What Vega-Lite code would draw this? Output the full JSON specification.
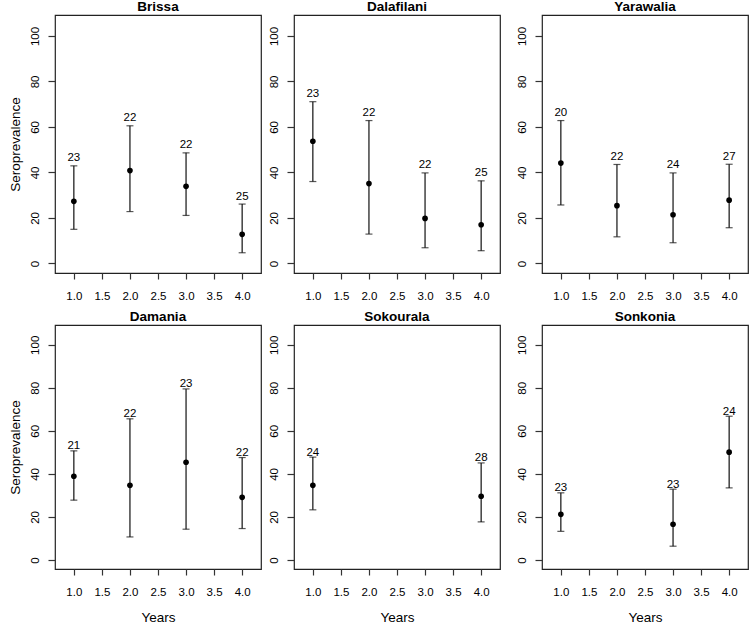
{
  "$schema": "https://vega.github.io/schema/vega-lite/v6.json",
  "padding": {"left": 7, "top": -2, "right": 0, "bottom": 0},
  "background": "white",
  "config": {
    "font": "Liberation Sans",
    "view": {"stroke": "#222", "strokeWidth": 1.2},
    "axis": {"domain": false, "grid": false, "tickColor": "#333", "tickWidth": 1.2, "labelFont": "Liberation Sans", "labelFontSize": 11.5, "labelColor": "#000", "titleFont": "Liberation Sans", "titleFontSize": 13.5, "titleFontWeight": "normal", "titleColor": "#000"},
    "axisY": {"labelAngle": 270, "labelAlign": "center", "labelBaseline": "alphabetic", "labelPadding": 10, "titlePadding": 7, "tickSize": 7},
    "axisX": {"labelPadding": 11, "tickSize": 6, "titlePadding": 13, "labelFlush": false, "labelOverlap": false, "format": ".1f"},
    "title": {"font": "Liberation Sans", "fontSize": 13.5, "fontWeight": "bold", "anchor": "middle", "baseline": "alphabetic", "offset": 2, "color": "#000"},
    "text": {"font": "Liberation Sans", "fontSize": 11.5, "color": "#000", "baseline": "alphabetic"},
    "rule": {"color": "#111", "strokeWidth": 1.2},
    "tick": {"color": "#111", "thickness": 1.2, "orient": "horizontal", "size": 7},
    "point": {"filled": true, "color": "#000", "opacity": 1, "size": 32}
  },
  "data": {"values": [
    {"site": "Brissa", "year": 1, "prev": 27.3, "lower": 15.0, "upper": 42.9, "n": 23},
    {"site": "Brissa", "year": 2, "prev": 40.8, "lower": 22.8, "upper": 60.5, "n": 22},
    {"site": "Brissa", "year": 3, "prev": 33.9, "lower": 21.1, "upper": 48.6, "n": 22},
    {"site": "Brissa", "year": 4, "prev": 12.8, "lower": 4.7, "upper": 26.1, "n": 25},
    {"site": "Dalafilani", "year": 1, "prev": 53.7, "lower": 36.0, "upper": 71.1, "n": 23},
    {"site": "Dalafilani", "year": 2, "prev": 35.1, "lower": 12.9, "upper": 62.8, "n": 22},
    {"site": "Dalafilani", "year": 3, "prev": 19.8, "lower": 6.9, "upper": 39.8, "n": 22},
    {"site": "Dalafilani", "year": 4, "prev": 17.0, "lower": 5.6, "upper": 36.3, "n": 25},
    {"site": "Yarawalia", "year": 1, "prev": 44.1, "lower": 25.7, "upper": 62.8, "n": 20},
    {"site": "Yarawalia", "year": 2, "prev": 25.4, "lower": 11.7, "upper": 43.5, "n": 22},
    {"site": "Yarawalia", "year": 3, "prev": 21.4, "lower": 9.1, "upper": 39.8, "n": 24},
    {"site": "Yarawalia", "year": 4, "prev": 27.8, "lower": 15.7, "upper": 43.6, "n": 27},
    {"site": "Damania", "year": 1, "prev": 38.9, "lower": 27.8, "upper": 50.7, "n": 21},
    {"site": "Damania", "year": 2, "prev": 34.7, "lower": 10.7, "upper": 65.6, "n": 22},
    {"site": "Damania", "year": 3, "prev": 45.4, "lower": 14.3, "upper": 79.5, "n": 23},
    {"site": "Damania", "year": 4, "prev": 29.1, "lower": 14.6, "upper": 47.6, "n": 22},
    {"site": "Sokourala", "year": 1, "prev": 34.7, "lower": 23.3, "upper": 47.8, "n": 24},
    {"site": "Sokourala", "year": 4, "prev": 29.6, "lower": 17.7, "upper": 45.1, "n": 28},
    {"site": "Sonkonia", "year": 1, "prev": 21.2, "lower": 13.3, "upper": 31.2, "n": 23},
    {"site": "Sonkonia", "year": 3, "prev": 16.6, "lower": 6.4, "upper": 32.9, "n": 23},
    {"site": "Sonkonia", "year": 4, "prev": 50.1, "lower": 33.5, "upper": 66.8, "n": 24}
  ]},
  "spacing": 5,
  "vconcat": [
    {
      "spacing": 14,
      "hconcat": [
        {
          "spacing": 5,
          "hconcat": [
            {
              "title": "Brissa", "width": 206, "height": 258,
              "transform": [{"filter": "datum.site === 'Brissa'"}],
              "encoding": {"x": {"field": "year", "type": "quantitative", "scale": {"domain": [0.664, 4.336], "nice": false, "zero": false}, "axis": {"values": [1, 1.5, 2, 2.5, 3, 3.5, 4], "title": null}}},
              "layer": [
                {"mark": "rule", "encoding": {"y": {"field": "lower", "type": "quantitative", "title": "Seroprevalence", "scale": {"domain": [-4.2, 109.2], "nice": false, "zero": false}, "axis": {"values": [0, 20, 40, 60, 80, 100]}}, "y2": {"field": "upper"}}},
                {"mark": "tick", "encoding": {"y": {"field": "upper", "type": "quantitative", "title": "Seroprevalence"}}},
                {"mark": "tick", "encoding": {"y": {"field": "lower", "type": "quantitative", "title": "Seroprevalence"}}},
                {"mark": "point", "encoding": {"y": {"field": "prev", "type": "quantitative", "title": "Seroprevalence"}}},
                {"mark": {"type": "text", "dy": -4.5}, "encoding": {"y": {"field": "upper", "type": "quantitative", "title": "Seroprevalence"}, "text": {"field": "n"}}}
              ]
            },
            {
              "title": "Dalafilani", "width": 206, "height": 258,
              "transform": [{"filter": "datum.site === 'Dalafilani'"}],
              "encoding": {"x": {"field": "year", "type": "quantitative", "scale": {"domain": [0.664, 4.336], "nice": false, "zero": false}, "axis": {"values": [1, 1.5, 2, 2.5, 3, 3.5, 4], "title": null}}},
              "layer": [
                {"mark": "rule", "encoding": {"y": {"field": "lower", "type": "quantitative", "title": null, "scale": {"domain": [-4.2, 109.2], "nice": false, "zero": false}, "axis": {"values": [0, 20, 40, 60, 80, 100]}}, "y2": {"field": "upper"}}},
                {"mark": "tick", "encoding": {"y": {"field": "upper", "type": "quantitative", "title": null}}},
                {"mark": "tick", "encoding": {"y": {"field": "lower", "type": "quantitative", "title": null}}},
                {"mark": "point", "encoding": {"y": {"field": "prev", "type": "quantitative", "title": null}}},
                {"mark": {"type": "text", "dy": -4.5}, "encoding": {"y": {"field": "upper", "type": "quantitative", "title": null}, "text": {"field": "n"}}}
              ]
            }
          ]
        },
        {
          "title": "Yarawalia", "width": 206, "height": 258,
          "transform": [{"filter": "datum.site === 'Yarawalia'"}],
          "encoding": {"x": {"field": "year", "type": "quantitative", "scale": {"domain": [0.664, 4.336], "nice": false, "zero": false}, "axis": {"values": [1, 1.5, 2, 2.5, 3, 3.5, 4], "title": null}}},
          "layer": [
            {"mark": "rule", "encoding": {"y": {"field": "lower", "type": "quantitative", "title": null, "scale": {"domain": [-4.2, 109.2], "nice": false, "zero": false}, "axis": {"values": [0, 20, 40, 60, 80, 100]}}, "y2": {"field": "upper"}}},
            {"mark": "tick", "encoding": {"y": {"field": "upper", "type": "quantitative", "title": null}}},
            {"mark": "tick", "encoding": {"y": {"field": "lower", "type": "quantitative", "title": null}}},
            {"mark": "point", "encoding": {"y": {"field": "prev", "type": "quantitative", "title": null}}},
            {"mark": {"type": "text", "dy": -4.5}, "encoding": {"y": {"field": "upper", "type": "quantitative", "title": null}, "text": {"field": "n"}}}
          ]
        }
      ]
    },
    {
      "spacing": 14,
      "hconcat": [
        {
          "spacing": 5,
          "hconcat": [
            {
              "title": "Damania", "width": 206, "height": 244,
              "transform": [{"filter": "datum.site === 'Damania'"}],
              "encoding": {"x": {"field": "year", "type": "quantitative", "title": "Years", "scale": {"domain": [0.664, 4.336], "nice": false, "zero": false}, "axis": {"values": [1, 1.5, 2, 2.5, 3, 3.5, 4]}}},
              "layer": [
                {"mark": "rule", "encoding": {"y": {"field": "lower", "type": "quantitative", "title": "Seroprevalence", "scale": {"domain": [-4.2, 109.2], "nice": false, "zero": false}, "axis": {"values": [0, 20, 40, 60, 80, 100]}}, "y2": {"field": "upper"}}},
                {"mark": "tick", "encoding": {"y": {"field": "upper", "type": "quantitative", "title": "Seroprevalence"}}},
                {"mark": "tick", "encoding": {"y": {"field": "lower", "type": "quantitative", "title": "Seroprevalence"}}},
                {"mark": "point", "encoding": {"y": {"field": "prev", "type": "quantitative", "title": "Seroprevalence"}}},
                {"mark": {"type": "text", "dy": -1.5}, "encoding": {"y": {"field": "upper", "type": "quantitative", "title": "Seroprevalence"}, "text": {"field": "n"}}}
              ]
            },
            {
              "title": "Sokourala", "width": 206, "height": 244,
              "transform": [{"filter": "datum.site === 'Sokourala'"}],
              "encoding": {"x": {"field": "year", "type": "quantitative", "title": "Years", "scale": {"domain": [0.664, 4.336], "nice": false, "zero": false}, "axis": {"values": [1, 1.5, 2, 2.5, 3, 3.5, 4]}}},
              "layer": [
                {"mark": "rule", "encoding": {"y": {"field": "lower", "type": "quantitative", "title": null, "scale": {"domain": [-4.2, 109.2], "nice": false, "zero": false}, "axis": {"values": [0, 20, 40, 60, 80, 100]}}, "y2": {"field": "upper"}}},
                {"mark": "tick", "encoding": {"y": {"field": "upper", "type": "quantitative", "title": null}}},
                {"mark": "tick", "encoding": {"y": {"field": "lower", "type": "quantitative", "title": null}}},
                {"mark": "point", "encoding": {"y": {"field": "prev", "type": "quantitative", "title": null}}},
                {"mark": {"type": "text", "dy": -1.5}, "encoding": {"y": {"field": "upper", "type": "quantitative", "title": null}, "text": {"field": "n"}}}
              ]
            }
          ]
        },
        {
          "title": "Sonkonia", "width": 206, "height": 244,
          "transform": [{"filter": "datum.site === 'Sonkonia'"}],
          "encoding": {"x": {"field": "year", "type": "quantitative", "title": "Years", "scale": {"domain": [0.664, 4.336], "nice": false, "zero": false}, "axis": {"values": [1, 1.5, 2, 2.5, 3, 3.5, 4]}}},
          "layer": [
            {"mark": "rule", "encoding": {"y": {"field": "lower", "type": "quantitative", "title": null, "scale": {"domain": [-4.2, 109.2], "nice": false, "zero": false}, "axis": {"values": [0, 20, 40, 60, 80, 100]}}, "y2": {"field": "upper"}}},
            {"mark": "tick", "encoding": {"y": {"field": "upper", "type": "quantitative", "title": null}}},
            {"mark": "tick", "encoding": {"y": {"field": "lower", "type": "quantitative", "title": null}}},
            {"mark": "point", "encoding": {"y": {"field": "prev", "type": "quantitative", "title": null}}},
            {"mark": {"type": "text", "dy": -1.5}, "encoding": {"y": {"field": "upper", "type": "quantitative", "title": null}, "text": {"field": "n"}}}
          ]
        }
      ]
    }
  ]
}
